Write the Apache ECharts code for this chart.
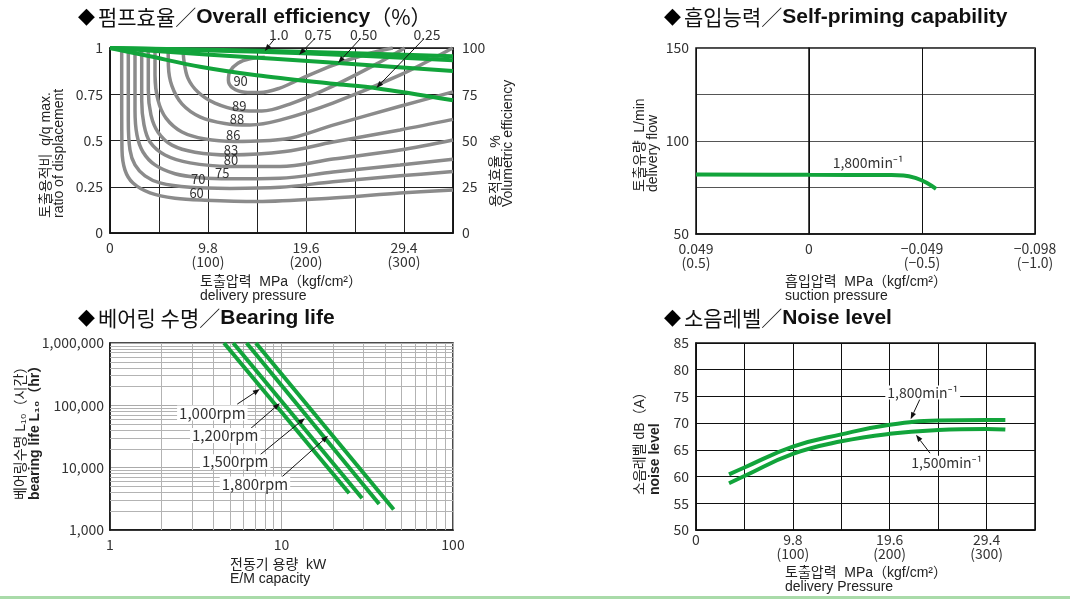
<!DOCTYPE html>
<html>
<head>
<meta charset="utf-8">
<script src="https://cdn.jsdelivr.net/npm/echarts@6/dist/echarts.min.js"></script>
<style>
html, body { margin: 0; padding: 0; background: #fff; }
#chart { width: 1070px; height: 599px; }
</style>
</head>
<body>
<div id="chart"></div>
<script>
// ---------- Overall efficiency: iso-efficiency contours (pressure MPa, q/q max) ----------
const contourLevels = ['60', '70', '75', '80', '83', '86', '88', '89', '90'];
const contour60 = [[1.17,1.0],[1.17,0.72],[1.2,0.45],[1.5,0.34],[2.3,0.27],[4.0,0.217],[6.5,0.188],[9.5,0.177],[14.7,0.17],[22.3,0.189],[29.0,0.216],[34.3,0.233]];
const contour70 = [[1.83,1.0],[1.83,0.61],[2.0,0.449],[2.5,0.368],[3.5,0.309],[5.0,0.271],[8.0,0.247],[12.0,0.241],[17.0,0.247],[22.3,0.277],[29.0,0.309],[34.3,0.332]];
const contour75 = [[2.5,1.0],[2.5,0.664],[2.7,0.529],[3.3,0.438],[4.5,0.368],[6.5,0.32],[9.0,0.299],[12.0,0.293],[17.0,0.296],[22.3,0.33],[29.0,0.368],[34.3,0.399]];
const contour80 = [[3.17,1.0],[3.17,0.718],[3.4,0.584],[4.0,0.492],[5.5,0.422],[8.0,0.379],[12.0,0.36],[17.0,0.359],[22.3,0.40],[29.0,0.449],[34.3,0.503]];
const contour83 = [[3.83,1.0],[3.83,0.772],[4.1,0.637],[4.8,0.545],[6.2,0.475],[8.5,0.437],[12.0,0.422],[17.5,0.44],[22.3,0.492],[29.0,0.557],[34.3,0.614]];
const contour86 = [[4.5,1.0],[4.5,0.853],[4.8,0.718],[5.6,0.621],[7.2,0.546],[9.5,0.508],[12.5,0.495],[17.5,0.508],[22.3,0.583],[29.0,0.685],[34.3,0.763]];
const contour88 = [[5.82,1.0],[5.84,0.903],[6.19,0.795],[7.19,0.698],[8.99,0.628],[11.49,0.592],[13.99,0.584],[16.98,0.61],[22.28,0.702],[28.97,0.853],[34.27,1.0]];
const contour89 = [[7.32,1.0],[7.39,0.934],[7.79,0.837],[8.79,0.762],[10.49,0.702],[12.99,0.664],[15.18,0.659],[17.98,0.697],[22.28,0.794],[26.97,0.923],[29.47,1.0]];
const contour90 = [[15.48,0.95],[13.99,0.942],[12.79,0.918],[11.99,0.874],[11.84,0.826],[12.29,0.783],[13.49,0.761],[14.99,0.759],[16.98,0.783],[18.98,0.831],[22.28,0.906],[25.57,0.965],[28.27,1.0]];

// Volumetric efficiency (%) by displacement ratio
const displacementRatios = ['1.0', '0.75', '0.50', '0.25'];
const vol100 = [[0,100],[10,99.1],[20,97.8],[34.3,95.5]];
const vol075 = [[0,100],[10,98.7],[20,97.0],[34.3,93.4]];
const vol050 = [[0,100],[10,96.4],[22.8,91.9],[34.3,87.6]];
const vol025 = [[0,100],[4.0,95.5],[9.0,89.9],[14.65,85.3],[22.3,80.7],[26.65,78.3],[34.3,71.8]];

// ---------- Self-priming capability (suction MPa, L/min) ----------
const primingFlow1800 = [[0.049,82.0],[0,81.8],[-0.035,81.7],[-0.041,81.5],[-0.0467,79.9],[-0.051,77.6],[-0.0551,74.3]];

// ---------- Bearing life (kW, hours) ----------
const rpmLabels = ['1,000rpm', '1,200rpm', '1,500rpm', '1,800rpm'];
const life1000 = [[4.62,1000000],[24.8,3890]];
const life1200 = [[5.23,1000000],[29.5,3230]];
const life1500 = [[6.26,1000000],[37.1,2620]];
const life1800 = [[7.09,1000000],[45.1,2140]];

// ---------- Noise level (MPa, dB(A)) ----------
const noise1800 = [[3.34,60.4],[4.9,61.7],[9.8,65.6],[14.7,67.9],[19.6,69.7],[24.5,70.5],[29.4,70.6],[31.3,70.6]];
const noise1500 = [[3.34,58.75],[4.9,60.1],[9.8,64.25],[14.7,66.6],[19.6,68.0],[24.5,68.7],[29.4,68.9],[31.3,68.8]];

// ---------- tick labels ----------
const pressureTicks = ['0', '', '9.8\n(100)', '', '19.6\n(200)', '', '29.4\n(300)', ''];
const ratioTicks = ['0', '0.25', '0.5', '0.75', '1'];
const volEffTicks = ['0', '25', '50', '75', '100'];
const suctionTicks = { '1': '0.049\n(0.5)', '0': '0', '-1': '−0.049\n(−0.5)', '-2': '−0.098\n(−1.0)' };
const flowTicks = { 50: '50', 75: '', 100: '100', 125: '', 150: '150' };
const powerTicks = ['1', '10', '100'];
const lifeTicks = ['1,000', '10,000', '100,000', '1,000,000'];

// ---------- styling ----------
const GREEN = '#12a43b';
const GRAY = '#8b8b8b';
const NUM_FONT = "'Noto Sans CJK KR', 'Noto Sans', sans-serif";
const MIX_FONT = "'Liberation Sans', 'Noto Sans CJK KR', sans-serif";
const tickText = { color: '#333', fontSize: 14, fontFamily: NUM_FONT, lineHeight: 14 };

const chart = echarts.init(document.getElementById('chart'), null, { renderer: 'canvas' });

function gridBox(left, top, width, height) {
  return { left, top, width, height, show: true, borderColor: '#111', borderWidth: 1.5, containLabel: false };
}
function blackAxisLine() { return { show: true, lineStyle: { color: '#111', width: 1.5 } }; }

const contourData = [contour60, contour70, contour75, contour80, contour83, contour86, contour88, contour89, contour90];
const volData = [vol100, vol075, vol050, vol025];
const lifeData = [life1000, life1200, life1500, life1800];

const series = [];
contourData.forEach((d, i) => series.push({
  name: 'η' + contourLevels[i], type: 'line', xAxisIndex: 0, yAxisIndex: 0, data: d,
  smooth: 0.35, symbol: 'none', silent: true, z: 2,
  lineStyle: { color: GRAY, width: 3.5 }
}));
volData.forEach((d, i) => series.push({
  name: 'q/qmax ' + displacementRatios[i], type: 'line', xAxisIndex: 0, yAxisIndex: 1, data: d,
  smooth: 0.3, symbol: 'none', silent: true, z: 3,
  lineStyle: { color: GREEN, width: 4 }
}));
const SI_PRIMING = series.length;
series.push({
  name: '1,800min⁻¹', type: 'line', xAxisIndex: 1, yAxisIndex: 2, data: primingFlow1800,
  smooth: 0.4, symbol: 'none', silent: true, z: 3, lineStyle: { color: GREEN, width: 4 }
});

// minor log grid lines of the bearing-life panel
const minorX = [], minorY = [];
for (const dec of [1, 10]) for (let k = 2; k <= 9; k++) minorX.push(k * dec);
for (const dec of [1000, 10000, 100000]) for (let k = 2; k <= 9; k++) minorY.push(k * dec);
const SI_BEARING = series.length;
series.push({
  name: 'grid', type: 'line', xAxisIndex: 2, yAxisIndex: 3, data: [[1, 1000]],
  symbol: 'none', silent: true, z: 1, lineStyle: { width: 0, opacity: 0 },
  markLine: {
    z: 1, silent: true, symbol: ['none', 'none'], animation: false, label: { show: false },
    lineStyle: { color: '#b3b3b3', width: 1, type: 'solid' },
    data: minorX.map(v => ({ xAxis: v })).concat(minorY.map(v => ({ yAxis: v })))
  }
});
lifeData.forEach((d, i) => series.push({
  name: rpmLabels[i], type: 'line', xAxisIndex: 2, yAxisIndex: 3, data: d,
  symbol: 'none', silent: true, z: 10, lineStyle: { color: GREEN, width: 4 }
}));
const SI_NOISE = series.length;
[noise1800, noise1500].forEach((d, i) => series.push({
  name: i ? '1,500min⁻¹' : '1,800min⁻¹', type: 'line', xAxisIndex: 3, yAxisIndex: 4, data: d,
  smooth: 0.45, symbol: 'none', silent: true, z: 3, lineStyle: { color: GREEN, width: 4 }
}));

const pressureFormatter = v => pressureTicks[Math.round(v / 4.9)] || '';

chart.setOption({
  animation: false,
  backgroundColor: '#fff',
  grid: [
    gridBox(110, 48, 343, 185),
    gridBox(696, 48, 339, 186),
    gridBox(110, 343, 343, 187),
    gridBox(696, 343, 339, 187)
  ],
  xAxis: [
    { gridIndex: 0, type: 'value', min: 0, max: 34.3, interval: 4.9,
      axisLine: blackAxisLine(), axisTick: { show: false },
      axisLabel: Object.assign({}, tickText, { margin: 8, formatter: pressureFormatter }),
      splitLine: { show: true, lineStyle: { color: '#222', width: 1 } } },
    { gridIndex: 1, type: 'value', inverse: true, min: -0.098, max: 0.049, interval: 0.049,
      axisLine: blackAxisLine(), axisTick: { show: false },
      axisLabel: Object.assign({}, tickText, { margin: 8, formatter: v => suctionTicks[String(Math.round(v / 0.049))] || '' }),
      splitLine: { show: true, lineStyle: { color: '#111', width: 1 } } },
    { gridIndex: 2, type: 'log', logBase: 10, min: 1, max: 100,
      axisLine: blackAxisLine(), axisTick: { show: false },
      axisLabel: Object.assign({}, tickText, { margin: 8, formatter: v => powerTicks[Math.round(Math.log10(v))] || '' }),
      splitLine: { show: true, lineStyle: { color: '#aaa', width: 1 } } },
    { gridIndex: 3, type: 'value', min: 0, max: 34.3, interval: 4.9,
      axisLine: blackAxisLine(), axisTick: { show: false },
      axisLabel: Object.assign({}, tickText, { margin: 3, formatter: pressureFormatter }),
      splitLine: { show: true, lineStyle: { color: '#111', width: 1 } } }
  ],
  yAxis: [
    { gridIndex: 0, type: 'value', min: 0, max: 1, interval: 0.25,
      axisLine: blackAxisLine(), axisTick: { show: false },
      axisLabel: Object.assign({}, tickText, { margin: 7, formatter: v => ratioTicks[Math.round(v * 4)] }),
      splitLine: { show: true, lineStyle: { color: '#222', width: 1 } } },
    { gridIndex: 0, type: 'value', position: 'right', min: 0, max: 100, interval: 25,
      axisLine: blackAxisLine(), axisTick: { show: false },
      axisLabel: Object.assign({}, tickText, { margin: 9, formatter: v => volEffTicks[Math.round(v / 25)] }),
      splitLine: { show: false } },
    { gridIndex: 1, type: 'value', min: 50, max: 150, interval: 25,
      axisLine: blackAxisLine(), axisTick: { show: false },
      axisLabel: Object.assign({}, tickText, { margin: 7, formatter: v => flowTicks[Math.round(v)] || '' }),
      splitLine: { show: true, lineStyle: { color: '#555', width: 1 } } },
    { gridIndex: 2, type: 'log', logBase: 10, min: 1000, max: 1000000,
      axisLine: blackAxisLine(), axisTick: { show: false },
      axisLabel: Object.assign({}, tickText, { margin: 6, formatter: v => lifeTicks[Math.round(Math.log10(v)) - 3] || '' }),
      splitLine: { show: true, lineStyle: { color: '#aaa', width: 1 } } },
    { gridIndex: 3, type: 'value', min: 50, max: 85, interval: 5,
      axisLine: blackAxisLine(), axisTick: { show: false },
      axisLabel: Object.assign({}, tickText, { margin: 7 }),
      splitLine: { show: true, lineStyle: { color: '#111', width: 1 } } }
  ],
  series
});

// ---------- titles, axis names and annotations ----------
const titleRich = {
  d: { fontSize: 22, fontFamily: "'DejaVu Sans', sans-serif", fill: '#000', padding: [0, 3, 0, 0] },
  k: { fontSize: 21, fontFamily: "'Noto Sans CJK KR', sans-serif", fill: '#111' },
  e: { fontSize: 21, fontWeight: 'bold', fontFamily: "'Liberation Sans', Arial, sans-serif", fill: '#111' }
};
function title(x, y, text) {
  return { type: 'text', x, y, z: 50, style: { text, rich: titleRich, verticalAlign: 'middle', align: 'left' } };
}
function name(x, y, text) {
  return { type: 'text', x, y, z: 50, style: { text, font: '14px ' + MIX_FONT, fill: '#222', lineHeight: 14, align: 'left', verticalAlign: 'top' } };
}
function vname(x, y, text, bold) {
  return { type: 'text', x, y, z: 50, rotation: Math.PI / 2,
    style: { text, font: (bold ? 'bold ' : '') + '14px ' + MIX_FONT, fill: '#222', align: 'left', verticalAlign: 'middle' } };
}
function label(si, pt, text, size, bg) {
  const p = chart.convertToPixel({ seriesIndex: si }, pt);
  const style = { text, x: 0, y: 0, font: size + 'px ' + NUM_FONT, fill: '#333', align: 'center', verticalAlign: 'middle' };
  if (bg) { style.backgroundColor = '#fff'; style.padding = [0, 2]; }
  return { type: 'text', x: p[0], y: p[1], z: 60, style };
}
function arrow(si, from, to) {
  const a = chart.convertToPixel({ seriesIndex: si }, from);
  const b = chart.convertToPixel({ seriesIndex: si }, to);
  const ang = Math.atan2(b[1] - a[1], b[0] - a[0]);
  const L = 7, W = 2.6;
  const bx = b[0] - L * Math.cos(ang), by = b[1] - L * Math.sin(ang);
  const nx = -Math.sin(ang), ny = Math.cos(ang);
  return [
    { type: 'line', z: 60, shape: { x1: a[0], y1: a[1], x2: bx, y2: by }, style: { stroke: '#111', lineWidth: 1 } },
    { type: 'polygon', z: 60, shape: { points: [[b[0], b[1]], [bx + nx * W, by + ny * W], [bx - nx * W, by - ny * W]] }, style: { fill: '#111' } }
  ];
}

const graphics = [
  title(78, 17, '{d|◆}{k|펌프효율／}{e|Overall efficiency}{k|（%）}'),
  title(664, 17, '{d|◆}{k|흡입능력／}{e|Self-priming capability}'),
  title(78, 318, '{d|◆}{k|베어링 수명／}{e|Bearing life}'),
  title(664, 318, '{d|◆}{k|소음레벨／}{e|Noise level}'),

  name(200, 275, '토출압력  MPa（kgf/cm²）\ndelivery pressure'),
  name(785, 275, '흡입압력  MPa（kgf/cm²）\nsuction pressure'),
  name(230, 558, '전동기 용량  kW\nE/M capacity'),
  name(785, 566, '토출압력  MPa（kgf/cm²）\ndelivery Pressure'),

  vname(46.5, 218, '토출용적비  q/q max.'),
  vname(59.5, 218, 'ratio of displacement'),
  vname(496.5, 207, '용적효율  %'),
  vname(508.5, 207, 'Volumetric efficiency'),
  vname(640, 192, '토출유량  L/min'),
  vname(653.5, 192, 'delivery flow'),
  vname(21, 500, '베어링수명 L₁₀（시간）'),
  vname(35, 500, 'bearing life L₁₀（hr）', true),
  vname(640, 495, '소음레벨 dB（A）'),
  vname(655, 495, 'noise level', true),

  { type: 'rect', z: 50, shape: { x: 0, y: 596, width: 1070, height: 3 }, style: { fill: '#a9dba9' } }
];

// efficiency contour labels (pressure, ratio)
const contourLabelAt = [[8.66,0.216],[8.82,0.291],[11.22,0.323],[12.09,0.395],[12.09,0.449],[12.32,0.53],[12.69,0.614],[12.92,0.686],[13.06,0.822]];
contourLabelAt.forEach((p, i) => graphics.push(label(0, p, contourLevels[i], 13, false)));

// displacement-ratio callouts
const ratioCallouts = [
  { at: [16.88, 1.074], from: [16.48, 1.051], to: [15.48, 0.984] },
  { at: [20.81, 1.074], from: [20.48, 1.051], to: [18.91, 0.964] },
  { at: [25.37, 1.074], from: [25.04, 1.051], to: [22.81, 0.919] },
  { at: [31.70, 1.074], from: [31.30, 1.045], to: [26.64, 0.784] }
];
ratioCallouts.forEach((c, i) => {
  graphics.push(label(0, c.at, displacementRatios[i], 14, false));
  graphics.push(...arrow(0, c.from, c.to));
});

// self-priming speed label
graphics.push(label(SI_PRIMING, [-0.0256, 88.1], '1,800min⁻¹', 14, false));

// bearing-life callouts
const rpmCallouts = [
  { at: [3.95, 75000], from: [5.52, 104500], to: [7.48, 182000] },
  { at: [4.70, 32700], from: [6.54, 41400], to: [9.78, 108000] },
  { at: [5.37, 12500], from: [7.48, 16000], to: [13.7, 62300] },
  { at: [7.00, 5470], from: [10.0, 7010], to: [18.7, 32400] }
];
rpmCallouts.forEach((c, i) => {
  graphics.push(...arrow(SI_BEARING, c.from, c.to));
  graphics.push(label(SI_BEARING, c.at, rpmLabels[i], 15, true));
});

// noise callouts
graphics.push(...arrow(SI_NOISE, [22.66, 74.5], [21.72, 70.75]));
graphics.push(label(SI_NOISE, [22.94, 75.74], '1,800min⁻¹', 14, true));
graphics.push(...arrow(SI_NOISE, [23.68, 64.38], [22.26, 67.81]));
graphics.push(label(SI_NOISE, [25.37, 62.6], '1,500min⁻¹', 14, true));

chart.setOption({ graphic: graphics });
</script>
</body>
</html>
